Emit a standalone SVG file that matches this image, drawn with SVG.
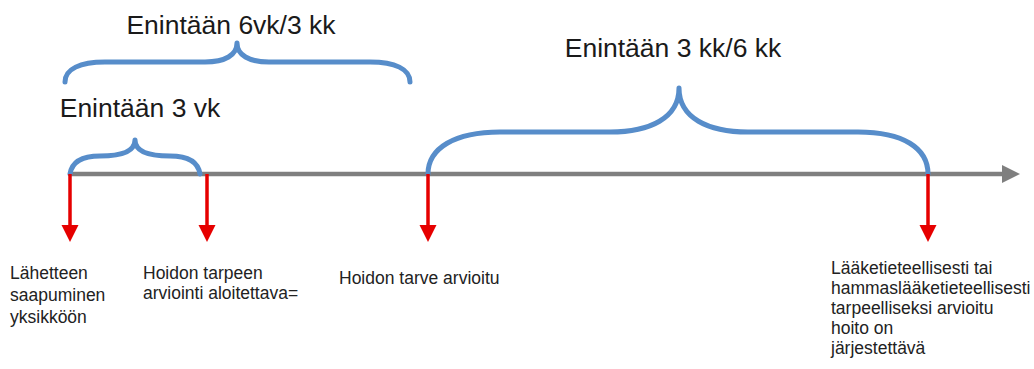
<svg xmlns="http://www.w3.org/2000/svg" width="1034" height="369" viewBox="0 0 1034 369">
  <style>
    .big { font-family: "Liberation Sans", Arial, sans-serif; font-size: 26.5px; fill: #1a1a1a; text-anchor: middle; }
    .lbl { font-family: "Liberation Sans", Arial, sans-serif; font-size: 17.5px; fill: #222; }
    .brace { fill: none; stroke: #578dca; stroke-width: 5; stroke-linecap: round; stroke-linejoin: round; }
    .red { stroke: #e60000; stroke-width: 3.5; fill: none; }
    .redhead { fill: #e60000; }
  </style>
  <rect width="1034" height="369" fill="#ffffff"/>

  <g id="timeline">
    <line x1="70" y1="174" x2="1004" y2="174" stroke="#7f7f7f" stroke-width="4.5"/>
    <polygon points="1002,165 1020,174 1002,183" fill="#7f7f7f"/>
  </g>

  <g id="connectors">
    <g id="brace-3vk">
      <path class="brace" d="M70,174 C72,161 84,156 100,156 C120,156 135,152 135,140 C135,152 150,156 170,156 C186,156 198,161 200,174"/>
    </g>
    <g id="brace-6vk">
      <path class="brace" d="M65,82 C65,69 80,62 105,62 L205,62 C225,62 237,55 237,43 C237,55 249,62 269,62 L370,62 C395,62 410,69 410,82"/>
    </g>
    <g id="brace-3kk">
      <path class="brace" d="M428,174 C428,148 455,132 500,132 L610,132 C650,132 679,118 679,88 C679,118 708,132 748,132 L858,132 C903,132 928,148 928,174"/>
    </g>
  </g>

  <g id="title-6vk"><text class="big" x="231" y="34">Enintään 6vk/3 kk</text></g>
  <g id="title-3kk"><text class="big" x="673" y="57">Enintään 3 kk/6 kk</text></g>
  <g id="title-3vk"><text class="big" x="140" y="117">Enintään 3 vk</text></g>

  <g id="node-lahete">
    <line class="red" x1="70" y1="174" x2="70" y2="227"/>
    <polygon class="redhead" points="61.5,225 78.5,225 70,242"/>
    <text class="lbl" x="10" y="279">Lähetteen</text>
    <text class="lbl" x="10" y="301">saapuminen</text>
    <text class="lbl" x="10" y="323">yksikköön</text>
  </g>

  <g id="node-arviointi">
    <line class="red" x1="207" y1="174" x2="207" y2="227"/>
    <polygon class="redhead" points="198.5,225 215.5,225 207,242"/>
    <text class="lbl" x="143" y="279">Hoidon tarpeen</text>
    <text class="lbl" x="143" y="299">arviointi aloitettava=</text>
  </g>

  <g id="node-arvioitu">
    <line class="red" x1="428" y1="174" x2="428" y2="227"/>
    <polygon class="redhead" points="419.5,225 436.5,225 428,242"/>
    <text class="lbl" x="339" y="284">Hoidon tarve arvioitu</text>
  </g>

  <g id="node-hoito">
    <line class="red" x1="928" y1="174" x2="928" y2="227"/>
    <polygon class="redhead" points="919.5,225 936.5,225 928,242"/>
    <text class="lbl" x="831" y="274">Lääketieteellisesti tai</text>
    <text class="lbl" x="831" y="294">hammaslääketieteellisesti</text>
    <text class="lbl" x="831" y="314">tarpeelliseksi arvioitu</text>
    <text class="lbl" x="831" y="334">hoito on</text>
    <text class="lbl" x="831" y="354">järjestettävä</text>
  </g>
</svg>
